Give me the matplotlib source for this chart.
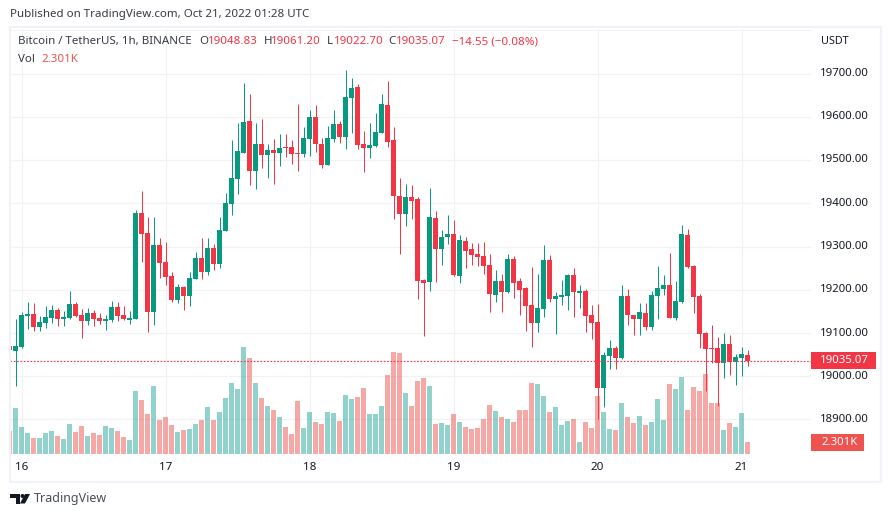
import numpy as np
import matplotlib.pyplot as plt
from matplotlib.patches import Rectangle, Polygon, Circle

plt.rcParams['font.family'] = ['Noto Sans', 'DejaVu Sans']

# hourly candles, first one is cut off by the left edge of the chart
open_ = [19070, 19058, 19067, 19139, 19143, 19113, 19123, 19134, 19153, 19132, 19134, 19167, 19141, 19127, 19146, 19134, 19127, 19130, 19160, 19141, 19130,
         19132, 19377, 19331, 19148, 19303, 19264, 19231, 19176, 19206, 19185, 19224, 19273, 19241, 19296, 19259, 19335, 19398, 19456, 19516, 19590, 19474,
         19537, 19511, 19523, 19516, 19530, 19530, 19516, 19513, 19548, 19599, 19537, 19488, 19548, 19583, 19553, 19643, 19668, 19537, 19527, 19532, 19562,
         19627, 19546, 19416, 19375, 19414, 19409, 19222, 19217, 19365, 19294, 19322, 19328, 19231, 19312, 19294, 19282, 19278, 19257, 19187, 19220, 19194,
         19271, 19220, 19204, 19164, 19123, 19155, 19268, 19178, 19183, 19185, 19234, 19192, 19197, 19141, 19125, 18972, 19046, 19065, 19042, 19185, 19141,
         19132, 19146, 19113, 19185, 19201, 19211, 19134, 19171, 19326, 19254, 19185, 19100, 19065, 19065, 19030, 19074, 19033, 19042, 19048.83]
high = [19075, 19132, 19148, 19171, 19169, 19139, 19162, 19164, 19157, 19150, 19197, 19171, 19155, 19157, 19153, 19146, 19141, 19174, 19171, 19162, 19150,
        19384, 19428, 19368, 19368, 19319, 19310, 19241, 19213, 19208, 19241, 19287, 19319, 19319, 19305, 19368, 19423, 19546, 19585, 19678, 19652, 19585,
        19594, 19537, 19548, 19560, 19560, 19546, 19629, 19576, 19615, 19627, 19550, 19578, 19615, 19590, 19708, 19689, 19675, 19567, 19585, 19608, 19652,
        19682, 19576, 19458, 19444, 19442, 19414, 19224, 19435, 19382, 19338, 19372, 19361, 19326, 19322, 19308, 19308, 19310, 19282, 19245, 19236, 19282,
        19278, 19227, 19206, 19252, 19236, 19303, 19280, 19194, 19222, 19236, 19250, 19211, 19201, 19164, 19167, 19056, 19083, 19069, 19211, 19201, 19141,
        19169, 19169, 19197, 19254, 19234, 19285, 19220, 19349, 19340, 19257, 19190, 19102, 19118, 19090, 19100, 19095, 19051, 19067, 19061.20]
low = [19055, 18977, 19065, 19109, 19104, 19104, 19111, 19123, 19116, 19116, 19132, 19137, 19088, 19118, 19116, 19120, 19107, 19125, 19127, 19130, 19120,
       19132, 19264, 19102, 19118, 19227, 19211, 19171, 19169, 19153, 19162, 19224, 19224, 19234, 19245, 19250, 19335, 19372, 19421, 19516, 19442, 19433,
       19481, 19458, 19444, 19486, 19506, 19490, 19474, 19506, 19509, 19518, 19481, 19488, 19541, 19539, 19525, 19562, 19525, 19472, 19504, 19530, 19562,
       19530, 19363, 19282, 19347, 19363, 19178, 19093, 19197, 19217, 19257, 19305, 19231, 19215, 19250, 19257, 19254, 19236, 19148, 19171, 19148, 19192,
       19180, 19141, 19104, 19067, 19102, 19137, 19171, 19097, 19164, 19153, 19137, 19157, 19102, 19086, 18901, 18928, 19016, 19016, 19039, 19118, 19095,
       19095, 19107, 19107, 19132, 19187, 19134, 19130, 19169, 19250, 19146, 19065, 18965, 19030, 18931, 18996, 19002, 18979, 19000, 19022.70]
close = [19060, 19070, 19141, 19143, 19113, 19125, 19137, 19153, 19132, 19137, 19167, 19139, 19127, 19146, 19132, 19127, 19132, 19160, 19139, 19132, 19134,
         19377, 19328, 19148, 19303, 19261, 19229, 19176, 19206, 19185, 19227, 19273, 19241, 19296, 19259, 19338, 19400, 19458, 19520, 19587, 19474, 19537,
         19511, 19523, 19516, 19527, 19527, 19513, 19513, 19550, 19599, 19537, 19488, 19550, 19583, 19553, 19645, 19666, 19534, 19527, 19534, 19564, 19629,
         19541, 19416, 19375, 19414, 19405, 19220, 19215, 19368, 19294, 19322, 19328, 19234, 19315, 19289, 19280, 19275, 19254, 19190, 19220, 19194, 19271,
         19215, 19199, 19162, 19123, 19157, 19268, 19178, 19185, 19187, 19234, 19194, 19197, 19139, 19123, 18972, 19049, 19065, 19042, 19185, 19141, 19132,
         19148, 19113, 19187, 19204, 19211, 19134, 19174, 19329, 19252, 19183, 19097, 19063, 19063, 19030, 19074, 19033, 19044, 19051, 19035.07]

# volume in thousands, same order as the candles
volume = [4.42, 8.83, 5.18, 4.03, 3.07, 3.07, 4.03, 4.42, 3.46, 2.88, 5.76, 4.22, 5.38, 3.46, 4.03, 3.65, 5.38, 4.99, 4.42, 3.26, 2.69,
          12.10, 10.37, 7.68, 13.06, 6.53, 7.10, 5.57, 4.22, 4.61, 4.80, 5.76, 6.53, 9.02, 6.53, 8.06, 10.75, 13.63, 12.48, 20.54, 18.43, 13.63,
          10.75, 9.22, 8.45, 7.10, 5.18, 3.84, 10.18, 4.99, 8.06, 6.14, 5.76, 8.06, 7.87, 6.34, 11.33, 10.56, 10.94, 12.67, 7.68, 7.68, 9.22,
          15.17, 19.58, 19.39, 11.71, 9.22, 14.02, 14.59, 13.06, 5.76, 5.95, 5.57, 7.68, 6.14, 5.18, 4.80, 4.99, 6.72, 9.41, 8.26, 7.10, 6.72,
          6.14, 8.45, 8.45, 13.63, 13.44, 11.14, 8.06, 9.02, 5.57, 6.34, 6.72, 2.30, 6.14, 4.99, 11.14, 8.06, 4.80, 4.61, 9.79, 7.10, 5.95,
          7.30, 5.57, 6.14, 10.56, 6.53, 13.44, 12.48, 14.78, 8.45, 12.86, 12.10, 15.36, 9.79, 9.79, 4.61, 5.95, 5.18, 7.87, 2.301]

price_ticks = [18900, 19000, 19100, 19200, 19300, 19400, 19500, 19600, 19700]
day_labels = ['16', '17', '18', '19', '20', '21']
day_pos = [2, 26, 50, 74, 98, 122]
last_price = 19035.07

W, H = 891, 517
GREEN = '#089981'
RED = '#F23645'
GRID = '#F1F2F4'
FRAME = '#F0F3FA'
TEXT = '#131722'
FS = 8.3

fig = plt.figure(figsize=(W / 100, H / 100), dpi=100, facecolor='white')
pos = [10 / W, 1 - 456 / H, 801 / W, 427 / H]
xlim = (0.083, 133.58)
ylim = (18815.6, 19802.9)

# three layers: grid at the back, then volume, then candles
ax_grid = fig.add_axes(pos, zorder=1)
ax_vol = fig.add_axes(pos, zorder=2)
ax = fig.add_axes(pos, zorder=3)

for a in (ax_grid, ax_vol, ax):
    a.set_xlim(xlim)
    for s in a.spines.values():
        s.set_visible(False)
    a.set_xticks([])
    a.set_yticks([])
ax_vol.patch.set_visible(False)
ax.patch.set_visible(False)

ax_grid.set_ylim(ylim)
ax_grid.set_xticks(day_pos)
ax_grid.set_yticks(price_ticks)
ax_grid.tick_params(length=0, labelbottom=False, labelleft=False)
ax_grid.grid(color=GRID, linewidth=0.9)

x = np.arange(len(close))
open_ = np.array(open_, dtype=float)
close = np.array(close, dtype=float)
up = close >= open_
colors = [GREEN if u else RED for u in up]

ax_vol.set_ylim(-0.384, 81.6)
vol_colors = ['#26A69A' if u else '#EF5350' for u in up]
ax_vol.bar(x, volume, width=0.83, color=vol_colors, alpha=0.5, linewidth=0)

ax.set_ylim(ylim)
ax.vlines(x, low, high, colors=colors, linewidth=0.72)
ax.bar(x, np.abs(close - open_), bottom=np.minimum(open_, close), width=0.83, color=colors, linewidth=0)
ax.axhline(last_price, color=RED, linewidth=0.8, linestyle=(0, (1.5, 1.5)))

# page furniture is placed in pixels on an overlay
ov = fig.add_axes([0, 0, 1, 1], zorder=5)
ov.set_xlim(0, W)
ov.set_ylim(H, 0)
ov.axis('off')
ov.add_patch(Rectangle((10, 27), 871, 455, fill=False, edgecolor=FRAME, linewidth=1.6))
ov.plot([10, 811], [29.5, 29.5], color=GRID, linewidth=0.7)

ov.text(10, 15, 'Published on TradingView.com, Oct 21, 2022 01:28 UTC', fontsize=FS, color='#363A45', va='center')

head_y = 41.5
ov.text(18, head_y, 'Bitcoin / TetherUS, 1h, BINANCE', fontsize=FS, color='#363A45', va='center')
for lab, lx, val, vx in [('O', 199, '19048.83', 208), ('H', 263.5, '19061.20', 271),
                         ('L', 326.5, '19022.70', 334), ('C', 388.5, '19035.07', 396)]:
    ov.text(lx, head_y, lab, fontsize=FS, color='#363A45', va='center')
    ov.text(vx, head_y, val, fontsize=FS, color=RED, va='center')
ov.text(452, head_y, '\u221214.55 (\u22120.08%)', fontsize=FS, color=RED, va='center')
ov.text(18, 59, 'Vol', fontsize=FS, color='#363A45', va='center')
ov.text(41, 59, '2.301K', fontsize=FS, color='#EF5350', va='center')

ov.text(821, 41, 'USDT', fontsize=7.8, color=TEXT, va='center')
for p in price_ticks:
    yy = 73.5 + (19700 - p) * 0.4325
    ov.text(869, yy, f'{p}.00', fontsize=8.2, color=TEXT, va='center', ha='right')
for d, l in zip(day_pos, day_labels):
    ov.text(9.5 + 6 * d, 467.5, l, fontsize=8.4, color=TEXT, va='center', ha='center')

ov.add_patch(Rectangle((811, 352), 65, 17, facecolor=RED, edgecolor='none'))
ov.text(869, 360.5, '19035.07', fontsize=8.2, color='white', fontweight='bold', va='center', ha='right')
ov.add_patch(Rectangle((811, 434), 53, 17, facecolor='#EF5350', edgecolor='none'))
ov.text(858, 442.5, '2.301K', fontsize=8.2, color='white', fontweight='bold', va='center', ha='right')

# logo
ov.add_patch(Polygon([(10, 494), (20, 494), (20, 503.5), (15.5, 503.5), (15.5, 498), (10, 498)], facecolor=TEXT))
ov.add_patch(Circle((22.5, 496), 2, facecolor=TEXT))
ov.add_patch(Polygon([(25, 494), (30, 494), (25, 503.5), (20, 503.5)], facecolor=TEXT))
ov.text(33.5, 498.5, 'TradingView', fontsize=9.0, color='#4A4E59', va='center')

fig.savefig('out.png', dpi=100)
